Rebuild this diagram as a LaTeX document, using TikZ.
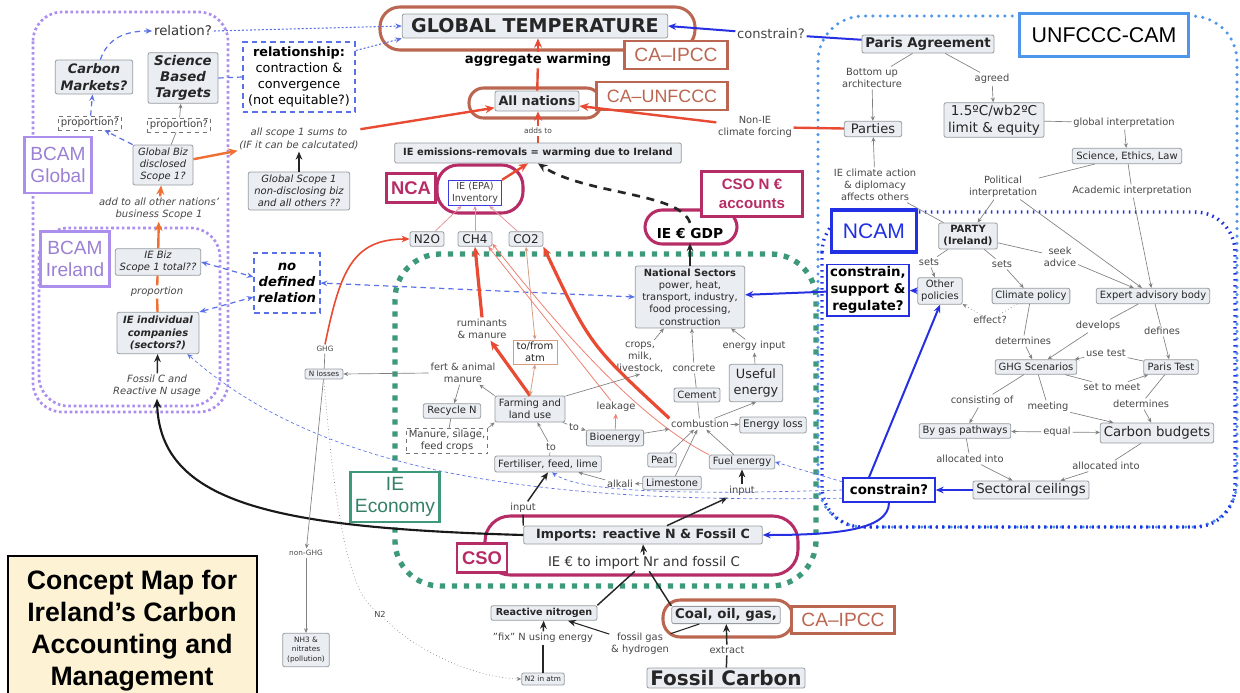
\documentclass[tikz,border=0pt]{standalone}
\usepackage{fontspec}
\setmainfont{DejaVu Sans}
\newfontfamily\arialfont{Liberation Sans}
\usetikzlibrary{arrows.meta,calc}

\definecolor{conceptfill}{RGB}{234,238,242}
\definecolor{conceptedge}{RGB}{150,155,160}
\definecolor{phrasegray}{RGB}{70,70,70}
\definecolor{ipccbrown}{RGB}{186,102,80}
\definecolor{csocrimson}{RGB}{182,44,102}
\definecolor{flowred}{RGB}{232,74,50}
\definecolor{floworange}{RGB}{238,112,52}
\definecolor{flowblue}{RGB}{38,48,226}
\definecolor{dashblue}{RGB}{90,112,232}
\definecolor{unfcccblue}{RGB}{78,150,236}
\definecolor{ncamblue}{RGB}{32,48,226}
\definecolor{bcampurple}{RGB}{172,142,236}
\definecolor{econgreen}{RGB}{62,152,122}
\definecolor{creamfill}{RGB}{253,243,212}
\definecolor{atmbrown}{RGB}{214,156,128}
\definecolor{invpink}{RGB}{226,150,156}
\definecolor{invblue}{RGB}{60,60,225}

\newcommand{\fsz}[2]{\fontsize{#1}{#2}\selectfont}

\tikzset{every picture/.style={line width=0.75pt}}
\tikzset{
  concept/.style={draw=conceptedge, fill=conceptfill, line width=0.6pt, rounded corners=1.5pt,
    inner xsep=2.5pt, inner ysep=1.6pt, align=center, text=black!85, font=\fsz{7.5}{9}},
  phrase/.style={inner sep=1pt, align=center, text=phrasegray, font=\fsz{7.4}{9}},
  hintbox/.style={draw=black!55, dashed, line width=0.6pt, fill=white, inner xsep=2pt,
    inner ysep=1.5pt, align=center, text=black!75, font=\fsz{7.6}{9}},
  bluebox/.style={draw=dashblue, line width=1.3pt, dash pattern=on 4pt off 3pt, fill=white,
    inner sep=2pt, align=center},
  tagbox/.style={fill=white, line width=2.2pt, inner sep=0pt, align=center},
  outerframe/.style={line width=2.3pt},
  gline/.style={draw=black!50, line width=0.5pt},
  garrow/.style={gline, -{Stealth[length=3.5pt,width=3pt]}},
  redline/.style={draw=flowred, line width=1.8pt},
  redflow/.style={redline, -{Stealth[length=7pt,width=6pt]}},
  redthick/.style={draw=flowred, line width=2.4pt, -{Stealth[length=7pt,width=6pt]}},
  redthin/.style={draw=flowred!70, line width=0.6pt, -{Stealth[length=4pt,width=3.5pt]}},
  orangeline/.style={draw=floworange, line width=1.8pt},
  orangeflow/.style={orangeline, -{Stealth[length=7pt,width=6pt]}},
  blackline/.style={draw=black!85, line width=1.1pt},
  blackflow/.style={blackline, -{Stealth[length=6pt,width=5pt]}},
  blueline/.style={draw=flowblue, line width=1.5pt},
  blueflow/.style={blueline, -{Stealth[length=6pt,width=5pt]}},
  bluedash/.style={draw=dashblue, line width=0.9pt, dash pattern=on 4pt off 3pt},
  bluethin/.style={draw=dashblue, line width=0.5pt, dash pattern=on 2.5pt off 2pt, -{Stealth[length=4pt,width=3.5pt]}},
  bluedot/.style={draw=dashblue, line width=0.8pt, dash pattern=on 1.5pt off 1.5pt, -{Stealth[length=5pt,width=4pt]}},
  bcamdots/.style={draw=bcampurple, line width=2pt, dash pattern=on 2pt off 2pt},
  econdots/.style={draw=econgreen, line width=4pt, dash pattern=on 4pt off 5pt},
  unfcccdots/.style={draw=unfcccblue, line width=2.6pt, line cap=round, dash pattern=on 0pt off 5.5pt},
  ncamdots/.style={draw=ncamblue, line width=2.6pt, dash pattern=on 1.2pt off 3.3pt},
}

\begin{document}
\begin{tikzpicture}[x=0.75pt,y=0.75pt,yscale=-1,xscale=1]
\useasboundingbox (0,0) rectangle (1240,693);

%Shape: Regions
\draw[bcamdots, rounded corners=22pt] (33,12) rectangle (228,412);
\draw[bcamdots, rounded corners=22pt] (39,228) rectangle (220,406);
\draw[econdots, rounded corners=34pt] (395,254) rectangle (816,586);
\draw[unfcccdots, rounded corners=34pt] (818,16) rectangle (1237,527);
\draw[ncamdots, rounded corners=30pt] (822,212) rectangle (1235,527);

%Shape: Rounded frames
\draw[outerframe, ipccbrown, rounded corners=15pt] (380,7) rectangle (695,50);
\draw[outerframe, ipccbrown, rounded corners=11pt] (469,88) rectangle (601,118);
\draw[outerframe, csocrimson, rounded corners=16pt] (437,165) rectangle (523,213);
\draw[outerframe, csocrimson, rounded corners=13pt] (645,210) rectangle (737,244);
\draw[outerframe, csocrimson, rounded corners=19pt] (485,516) rectangle (798,575);
\draw[outerframe, ipccbrown, rounded corners=13pt] (663,600) rectangle (793,637);

%Shape: Title
\fill[creamfill] (8,556) rectangle (257,693);
\draw[line width=2pt] (8,693) -- (8,556) -- (257,556) -- (257,693);
% Text Node
\node[font=\arialfont\bfseries\fsz{20}{24}, align=center] (title) at (132,631) {Concept Map for\\Ireland’s Carbon\\Accounting and\\Management};

% Tag boxes
\node[tagbox, draw=ipccbrown, text=ipccbrown, font=\arialfont\fsz{14.4}{16}, minimum width=77pt, minimum height=21pt] (ipcctop) at (676,55) {CA–IPCC};
\node[tagbox, draw=ipccbrown, text=ipccbrown, font=\arialfont\fsz{13.4}{16}, minimum width=98pt, minimum height=21pt] (unfcccca) at (662,96) {CA–UNFCCC};
\node[tagbox, draw=ipccbrown, text=ipccbrown, font=\arialfont\fsz{14.4}{16}, minimum width=77pt, minimum height=20pt] (ipccbot) at (843,620) {CA–IPCC};
\node[tagbox, draw=csocrimson, text=csocrimson, font=\arialfont\bfseries\fsz{13.8}{16}, minimum width=37pt, minimum height=22pt] (nca) at (411,188) {NCA};
\node[tagbox, draw=csocrimson, text=csocrimson, font=\arialfont\bfseries\fsz{11.3}{14}, minimum width=76pt, minimum height=34pt] (csoacc) at (752,194) {CSO N €\\accounts};
\node[tagbox, draw=csocrimson, text=csocrimson, font=\arialfont\bfseries\fsz{13.8}{16}, minimum width=37.5pt, minimum height=22pt] (cso) at (482,558) {CSO};
\node[tagbox, draw=ncamblue, text=ncamblue, font=\arialfont\fsz{15.8}{18}, line width=2.6pt, minimum width=64pt, minimum height=31.5pt] (ncam) at (874,231) {NCAM};
\node[tagbox, draw=unfcccblue, text=black, font=\arialfont\fsz{16}{18}, line width=2.6pt, minimum width=127pt, minimum height=32pt] (unfccccam) at (1104,35) {UNFCCC-CAM};
\node[tagbox, draw=bcampurple, text=bcampurple!90!black, font=\arialfont\fsz{14.3}{17}, minimum width=50pt, minimum height=42pt] (bcamglob) at (58,165) {BCAM\\Global};
\node[tagbox, draw=bcampurple, text=bcampurple!90!black, font=\arialfont\fsz{14.3}{17}, minimum width=52pt, minimum height=41pt] (bcamire) at (75,259) {BCAM\\Ireland};
\node[tagbox, draw=econgreen, text=econgreen!85!black, font=\arialfont\fsz{14.4}{17}, minimum width=67pt, minimum height=37.5pt] (ieecon) at (395,497) {IE\\Economy};

% Text Node: top chain
\node[concept, font=\bfseries\fsz{14.3}{17}, minimum width=199pt, minimum height=18pt] (gt) at (535,26) {GLOBAL TEMPERATURE};
\node[phrase, text=black, font=\bfseries\fsz{9.9}{12}] (agg) at (538,60) {aggregate warming};
\node[concept, font=\bfseries\fsz{9.6}{11}, minimum width=63pt, minimum height=15pt] (allnat) at (537,101) {All nations};
\node[phrase, font=\fsz{5.6}{7}] (addsto) at (538,131) {adds to};
\node[concept, font=\bfseries\fsz{7.4}{9}, minimum width=215pt, minimum height=15pt] (ieem) at (538,153) {IE emissions-removals = warming due to Ireland};
\node[concept, draw=invblue, fill=white, rounded corners=0pt, text=black!75, font=\fsz{7.2}{9}, minimum width=40pt, minimum height=19pt] (inv) at (475,193) {IE (EPA)\\Inventory};
\node[font=\bfseries\fsz{10.3}{12}] (gdp) at (690,233) {IE € GDP};
\node[concept, font=\fsz{9}{11}, minimum width=25.5pt, minimum height=11pt] (n2o) at (427,239) {N2O};
\node[concept, font=\fsz{9}{11}, minimum width=25.5pt, minimum height=11pt] (ch4) at (475,239) {CH4};
\node[concept, font=\fsz{9}{11}, minimum width=25.5pt, minimum height=11pt] (co2) at (526,239) {CO2};
\node[phrase, font=\fsz{9.8}{12}] (constrtop) at (771,34) {constrain?};
\node[phrase] (nonie) at (755,127) {Non-IE\\climate forcing};

% Text Node: left (BCAM)
\node[phrase, text=black!80, font=\fsz{10}{12}] (relq) at (183,31) {relation?};
\node[concept, font=\bfseries\itshape\fsz{9.8}{12.5}, minimum width=58pt, minimum height=25.5pt] (carbmk) at (94,77) {Carbon\\Markets?};
\node[concept, font=\bfseries\itshape\fsz{10}{12}, minimum width=52.5pt, minimum height=38pt] (sbt) at (183,78) {Science\\Based\\Targets};
\node[bluebox, font=\fsz{9.6}{12}, minimum width=84pt, minimum height=52.5pt] (relbox) at (299,77) {\textbf{relationship:}\\contraction \&\\convergence\\(not equitable?)};
\node[hintbox, minimum width=46pt, minimum height=8.5pt] (prop1) at (90,123) {proportion?};
\node[hintbox, minimum width=46.5pt, minimum height=9pt] (prop2) at (179,125) {proportion?};
\node[concept, font=\itshape\fsz{7.5}{9}, minimum width=45pt, minimum height=30pt] (globbiz) at (163,165) {Global Biz\\disclosed\\Scope 1?};
\node[phrase, font=\itshape\fsz{7.5}{9.5}] (scope1) at (299,139) {all scope 1 sums to\\(IF it can be calcutated)};
\node[concept, font=\itshape\fsz{7.5}{9}, minimum width=76pt, minimum height=28.5pt] (globscope) at (299,191) {Global Scope 1\\non-disclosing biz\\and all others ??};
\node[phrase, font=\itshape\fsz{7.5}{9}] (addto) at (159,209) {add to all other nations'\\business Scope 1};
\node[concept, font=\itshape\fsz{7.5}{9}, minimum width=64pt, minimum height=20pt] (ieb) at (158,262) {IE Biz\\Scope 1 total??};
\node[phrase, font=\itshape\fsz{7.5}{9}] (propl) at (157,292) {proportion};
\node[concept, font=\bfseries\itshape\fsz{7.5}{9.2}, minimum width=61.5pt, minimum height=31pt] (ieind) at (158,333) {IE individual\\companies\\(sectors?)};
\node[phrase, font=\itshape\fsz{7.5}{9}] (fcrn) at (157,386) {Fossil C and\\Reactive N usage};
\node[bluebox, font=\bfseries\itshape\fsz{9.9}{12}, minimum width=49pt, minimum height=45pt] (nodef) at (287,283) {no\\defined\\relation};

% Text Node: IE economy
\node[concept, font=\fsz{7.4}{9.2}, minimum width=82pt, minimum height=46.5pt] (natsec) at (690,297) {\textbf{National Sectors}\\power, heat,\\transport, industry,\\food processing,\\construction};
\node[phrase] (rum) at (482,329) {ruminants\\\& manure};
\node[concept, draw=atmbrown, fill=white, rounded corners=0pt, minimum width=33pt, minimum height=16pt] (tofrom) at (535,352) {to/from\\atm};
\node[phrase] (crops) at (640,357) {crops,\\milk,\\livestock,};
\node[phrase] (concrete) at (694,368) {concrete};
\node[phrase] (einput) at (754,346) {energy input};
\node[phrase] (fertam) at (463,373) {fert \& animal\\manure};
\node[concept, font=\fsz{9.6}{12}, minimum width=40pt, minimum height=28pt] (useful) at (756,383) {Useful\\energy};
\node[concept, minimum width=32pt, minimum height=10.5pt] (cement) at (697,395) {Cement};
\node[concept, minimum width=52.5pt, minimum height=19.5pt] (farm) at (530,409) {Farming and\\land use};
\node[phrase] (leak) at (616,407) {leakage};
\node[concept, minimum width=43pt, minimum height=11pt] (recycle) at (452,411) {Recycle N};
\node[phrase] (combust) at (700,424) {combustion};
\node[concept, font=\fsz{7.8}{9}, minimum width=46pt, minimum height=12pt] (eloss) at (773,425) {Energy loss};
\node[phrase] (to1) at (574,427) {to};
\node[concept, minimum width=41pt, minimum height=12pt] (bio) at (615,438) {Bioenergy};
\node[hintbox, font=\fsz{7.5}{9}, minimum width=60pt, minimum height=18pt] (manure) at (447,441) {Manure, silage,\\feed crops};
\node[phrase] (to2) at (551,447) {to};
\node[concept, minimum width=19.5pt, minimum height=10.5pt] (peat) at (662,460) {Peat};
\node[concept, minimum width=49pt, minimum height=10pt] (fuel) at (742,462) {Fuel energy};
\node[concept, minimum width=80pt, minimum height=12pt] (fert) at (548,464) {Fertiliser, feed, lime};
\node[concept, minimum width=44pt, minimum height=10pt] (lime) at (672,483) {Limestone};
\node[phrase] (alkali) at (620,484) {alkali};
\node[phrase] (input1) at (523,508) {input};
\node[phrase] (input2) at (742,491) {input};

% Text Node: imports and sources
\node[concept, font=\bfseries\fsz{9.5}{11}, minimum width=179pt, minimum height=13.5pt] (imports) at (643,535) {Imports: reactive N \& Fossil C};
\node[phrase, text=black!80, font=\fsz{10}{12}] (implab) at (644,563) {IE € to import Nr and fossil C};
\node[concept, font=\bfseries\fsz{7.2}{9}, minimum width=79.5pt, minimum height=11pt] (rn) at (544,613) {Reactive nitrogen};
\node[concept, font=\bfseries\fsz{10}{12}, minimum width=80pt, minimum height=12pt] (coal) at (726,615) {Coal, oil, gas,};
\node[phrase] (fix) at (543,638) {"fix" N using energy};
\node[phrase] (fosgas) at (640,644) {fossil gas\\\& hydrogen};
\node[phrase] (extract) at (727,650) {extract};
\node[concept, font=\fsz{5.5}{7}, minimum width=32pt, minimum height=9pt] (n2atm) at (543,679) {N2 in atm};
\node[concept, font=\bfseries\fsz{15}{17}, minimum width=117pt, minimum height=15pt] (fossil) at (726,678) {Fossil Carbon};

% Text Node: nitrogen losses
\node[phrase, font=\fsz{5.5}{7}] (ghglab) at (325,349) {GHG};
\node[concept, font=\fsz{5.5}{7}, minimum width=28.5pt, minimum height=7.5pt] (nloss) at (324,374) {N losses};
\node[phrase, font=\fsz{5.5}{7}] (nonghg) at (306,553) {non-GHG};
\node[phrase, font=\fsz{6.2}{7}] (n2lab) at (380,614) {N2};
\node[concept, font=\fsz{5.5}{7}, minimum width=35pt, minimum height=25pt] (nh3) at (306,650) {NH3 \&\\nitrates\\(pollution)};

% Text Node: UNFCCC-CAM and NCAM
\node[concept, font=\bfseries\fsz{10}{12}, minimum width=99pt, minimum height=13.5pt] (paris) at (928,44) {Paris Agreement};
\node[phrase] (bottomup) at (872,78) {Bottom up\\architecture};
\node[phrase] (agreed) at (992,79) {agreed};
\node[concept, font=\fsz{10.2}{12.5}, minimum width=75pt, minimum height=26pt] (lim) at (994,120) {1.5ºC/wb2ºC\\limit \& equity};
\node[phrase] (globint) at (1124,123) {global interpretation};
\node[concept, minimum width=82pt, minimum height=11.5pt] (sel) at (1127,156) {Science, Ethics, Law};
\node[concept, font=\fsz{9.8}{12}, minimum width=43pt, minimum height=11.5pt] (parties) at (873,129) {Parties};
\node[phrase] (ieclim) at (875,185) {IE climate action\\\& diplomacy\\affects others};
\node[phrase] (polint) at (1003,187) {Political\\interpretation};
\node[phrase] (acadint) at (1132,191) {Academic interpretation};
\node[concept, font=\bfseries\fsz{7.5}{9}, minimum width=44pt, minimum height=19.5pt] (party) at (968,236) {PARTY\\(Ireland)};
\node[phrase] (sets1) at (929,262) {sets};
\node[phrase] (sets2) at (1002,264) {sets};
\node[phrase] (seek) at (1060,257) {seek\\advice};
\node[bluebox, draw=flowblue, solid, line width=1pt, font=\bfseries\fsz{10}{12.5}, minimum width=61.5pt, minimum height=34.5pt] (csr) at (868,290) {constrain,\\support \&\\regulate?};
\node[concept, minimum width=33pt, minimum height=20pt] (other) at (940,291) {Other\\policies};
\node[concept, minimum width=58pt, minimum height=11.5pt] (climpol) at (1031,296) {Climate policy};
\node[concept, minimum width=85pt, minimum height=11.5pt] (expert) at (1153,296) {Expert advisory body};
\node[phrase] (effect) at (990,320) {effect?};
\node[phrase] (develops) at (1098,326) {develops};
\node[phrase] (defines) at (1162,331) {defines};
\node[phrase] (determ1) at (1023,341) {determines};
\node[phrase] (usetest) at (1106,353) {use test};
\node[concept, minimum width=60pt, minimum height=11pt] (ghg) at (1036,367) {GHG Scenarios};
\node[concept, minimum width=41pt, minimum height=11pt] (paristest) at (1171,367) {Paris Test};
\node[phrase] (settomeet) at (1112,387) {set to meet};
\node[phrase] (consist) at (982,401) {consisting of};
\node[phrase] (meeting) at (1048,407) {meeting};
\node[phrase] (determ2) at (1141,404) {determines};
\node[concept, minimum width=68pt, minimum height=11pt] (bygas) at (965,431) {By gas pathways};
\node[phrase] (equal) at (1057,432) {equal};
\node[concept, font=\fsz{10}{12}, minimum width=85pt, minimum height=15pt] (cbud) at (1157,433) {Carbon budgets};
\node[phrase] (alloc1) at (970,459) {allocated into};
\node[phrase] (alloc2) at (1106,466) {allocated into};
\node[concept, font=\fsz{10}{12}, minimum width=87pt, minimum height=13.5pt] (sectoral) at (1031,490) {Sectoral ceilings};
\node[bluebox, draw=flowblue, solid, line width=1pt, font=\bfseries\fsz{10}{12}, minimum width=69pt, minimum height=18pt] (constrq) at (889,490) {constrain?};

%Straight Lines: top chain
\draw[redline] (allnat) -- (agg);
\draw[redflow] (agg) -- (agg |- gt.south);
\draw[redline] (ieem) -- (addsto);
\draw[redflow] (addsto) -- (addsto |- allnat.south);
\draw[redflow] (inv.north east) -- ($(ieem.south)+(-10,0)$);
\draw[redline] (parties) -- (nonie);
\draw[redflow] (nonie) -- ($(allnat.east)+(0,5)$);
\draw[blueline] (paris) -- (constrtop);
\draw[blueflow] (constrtop) -- (gt.east);
\draw[black!85, line width=2pt, dash pattern=on 6pt off 5pt, -{Stealth[length=7pt,width=6pt]}] (gdp.north) .. controls (680,192) and (585,195) .. (ieem.south);
\draw[blackflow, line width=1.6pt] (natsec.north) -- (gdp.south);
\draw[invpink, line width=0.6pt, -{Stealth[length=3pt,width=3pt]}] (n2o) -- (inv);
\draw[invpink, line width=0.6pt, -{Stealth[length=3pt,width=3pt]}] (ch4) -- (inv);
\draw[invpink, line width=0.6pt, -{Stealth[length=3pt,width=3pt]}] (co2) -- (inv);

%Straight Lines: BCAM
\draw[bluedash, -{Stealth[length=5pt,width=4pt]}] (carbmk.70) .. controls (108,38) and (125,31) .. (relq.west);
\draw[bluedot] (relq.east) -- (gt.west);
\draw[bluedot] (relbox.25) -- (gt.south west);
\draw[bluedash] (sbt.east) -- (relbox.west);
\draw[bluedash, -{Stealth[length=5pt,width=4pt]}] (globbiz.north west) -- (prop1);
\draw[bluedash, -{Stealth[length=5pt,width=4pt]}] (prop1) -- (carbmk);
\draw[gline] (globbiz) -- (prop2);
\draw[garrow] (prop2) -- (sbt);
\draw[orangeflow] (globbiz) -- (scope1);
\draw[redflow] (scope1) -- (allnat);
\draw[blackflow] (globscope) -- (scope1);
\draw[orangeline] (ieind) -- (propl);
\draw[orangeline] (propl) -- (ieb);
\draw[orangeflow] (ieb) -- (addto);
\draw[orangeflow] (addto) -- (globbiz);
\draw[blackflow] (fcrn) -- (ieind);
\draw[bluedash, {Stealth[length=5pt,width=4pt]}-{Stealth[length=5pt,width=4pt]}] (ieb.east) -- ($(nodef.west)+(0,-6)$);
\draw[bluedash, {Stealth[length=5pt,width=4pt]}-{Stealth[length=5pt,width=4pt]}] (ieind.north east) -- ($(nodef.west)+(0,14)$);
\draw[bluedash, {Stealth[length=5pt,width=4pt]}-{Stealth[length=5pt,width=4pt]}] (natsec.west) -- (nodef.east);

%Curve Lines: fossil usage
\draw[black!90, line width=1.6pt, -{Stealth[length=7pt,width=6pt]}] (imports.west) .. controls (280,528) and (160,505) .. (fcrn.south);

%Straight Lines: farming and energy
\draw[gline] (nloss) -- (ghglab);
\draw[flowred, line width=1.2pt, -{Stealth[length=6pt,width=5pt]}] (ghglab.north) .. controls (340,272) and (352,239) .. (n2o.west);
\draw[garrow] (nloss) -- (nonghg);
\draw[garrow] (nonghg) -- (nh3);
\draw[gline, dotted] (nloss.south) .. controls (335,520) and (350,590) .. (n2lab);
\draw[gline, dotted, -{Stealth[length=3.5pt,width=3pt]}] (n2lab) .. controls (420,655) and (480,678) .. (n2atm.west);
\draw[garrow] (farm.north west) -- (fertam);
\draw[garrow] (fertam.west) -- (nloss.east);
\draw[garrow] (fertam) -- (recycle);
\draw[gline] (recycle) -- (manure);
\draw[garrow] (manure.north east) -- (farm.south west);
\draw[redthick] (farm.north) -- (rum);
\draw[redthick] (rum.north) -- (ch4.south);
\draw[atmbrown, line width=0.6pt, {Stealth[length=3.5pt,width=3pt]}-{Stealth[length=3.5pt,width=3pt]}] (farm.north) -- (tofrom.south);
\draw[atmbrown, line width=0.6pt, {Stealth[length=3.5pt,width=3pt]}-{Stealth[length=3.5pt,width=3pt]}] (tofrom.north) -- (co2.south);
\draw[redthick] (combust.north west) .. controls (590,345) .. (co2.south east);
\draw[redthin] (leak) -- (ch4.-30);
\draw[redthin] (fuel.north west) .. controls (640,420) and (560,330) .. (ch4.-15);
\draw[redthin] (bio) -- (leak);
\draw[garrow] (farm.20) -- (crops.south);
\draw[garrow] (crops) -- (natsec);
\draw[gline] (combust) -- (cement);
\draw[gline] (cement) -- (concrete);
\draw[garrow] (concrete) -- (natsec);
\draw[garrow] (useful) -- (einput);
\draw[garrow] (einput) -- (natsec);
\draw[garrow] (combust) -- (eloss);
\draw[garrow] (combust) -- (useful.south);
\draw[gline] (farm) -- (to1);
\draw[garrow] (to1) -- (bio);
\draw[garrow] (bio) -- (combust);
\draw[gline] (fert) -- (to2);
\draw[garrow] (to2) -- (farm);
\draw[garrow] (peat) -- (combust);
\draw[garrow] (lime) -- (combust);
\draw[garrow] (fuel) -- (combust);
\draw[garrow] (lime) -- (alkali);
\draw[garrow] (alkali) -- (fert);

%Straight Lines: imports
\draw[blackline] (imports.north west) -- (input1);
\draw[blackflow] (input1) -- (fert.south);
\draw[blackflow] ($(imports.north)+(24,0)$) -- (input2);
\draw[blackflow] (input2) -- (fuel);
\draw[blackline] (rn.north east) -- (implab);
\draw[blackline] (coal.north west) -- (implab);
\draw[blackflow] (implab.north) -- (imports.south);
\draw[blackline, line width=0.8pt] (coal) -- (fosgas);
\draw[blackflow, line width=0.8pt] (fosgas) -- (rn);
\draw[blackline] (fossil) -- (extract);
\draw[blackflow] (extract) -- (coal);
\draw[blackline] (n2atm) -- (fix);
\draw[blackflow] (fix) -- (rn);

%Straight Lines: UNFCCC-CAM
\draw[gline] (paris) -- (bottomup);
\draw[garrow] (bottomup) -- (parties);
\draw[gline] (paris) -- (agreed);
\draw[garrow] (agreed) -- (lim);
\draw[gline] (lim) -- (globint);
\draw[garrow] (globint) -- (sel);
\draw[gline] (sel) -- (polint);
\draw[garrow] (polint) -- (party);
\draw[garrow] (polint) -- (expert);
\draw[gline] (sel) -- (acadint);
\draw[garrow] (acadint) -- (expert);
\draw[gline] (party) -- (ieclim);
\draw[garrow] (ieclim) -- (parties);
\draw[gline] (party) -- (sets1);
\draw[garrow] (sets1) -- (other);
\draw[gline] (party) -- (sets2);
\draw[garrow] (sets2) -- (climpol);
\draw[gline] (party) -- (seek);
\draw[garrow] (seek) -- (expert);
\draw[gline, dotted] (climpol) -- (effect);
\draw[garrow, dotted] (effect) -- (other);
\draw[gline] (climpol) -- (determ1);
\draw[garrow] (determ1) -- (ghg);
\draw[gline] (expert) -- (develops);
\draw[garrow] (develops) -- (ghg);
\draw[gline] (expert) -- (defines);
\draw[garrow] (defines) -- (paristest);
\draw[gline] (paristest) -- (usetest);
\draw[garrow] (usetest) -- (ghg);
\draw[gline] (ghg) -- (settomeet);
\draw[garrow] (settomeet) -- (paristest);
\draw[gline] (ghg) -- (consist);
\draw[garrow] (consist) -- (bygas);
\draw[gline] (ghg) -- (meeting);
\draw[garrow] (meeting) -- (cbud);
\draw[gline] (paristest) -- (determ2);
\draw[garrow] (determ2) -- (cbud);
\draw[garrow] (equal) -- (bygas);
\draw[garrow] (equal) -- (cbud);
\draw[gline] (bygas) -- (alloc1);
\draw[garrow] (alloc1) -- (sectoral);
\draw[gline] (cbud) -- (alloc2);
\draw[garrow] (alloc2) -- (sectoral);

%Straight Lines: constraints
\draw[blueflow] (sectoral) -- (constrq);
\draw[blueflow] ($(constrq.north)+(-20,0)$) -- (other.south);
\draw[blueflow] (constrq.south) .. controls +(0,28) and +(70,0) .. (imports.east);
\draw[blueflow] (other) -- (csr);
\draw[blueflow] (csr) -- (natsec);
\draw[bluethin] (constrq.170) -- (fuel.east);
\draw[bluethin] (constrq.west) .. controls (680,495) and (580,492) .. ($(fert.south)+(4,0)$);
\draw[bluethin] (constrq.190) .. controls (560,503) and (330,480) .. ($(ieind.south east)+(-12,0)$);

\end{tikzpicture}
\end{document}
